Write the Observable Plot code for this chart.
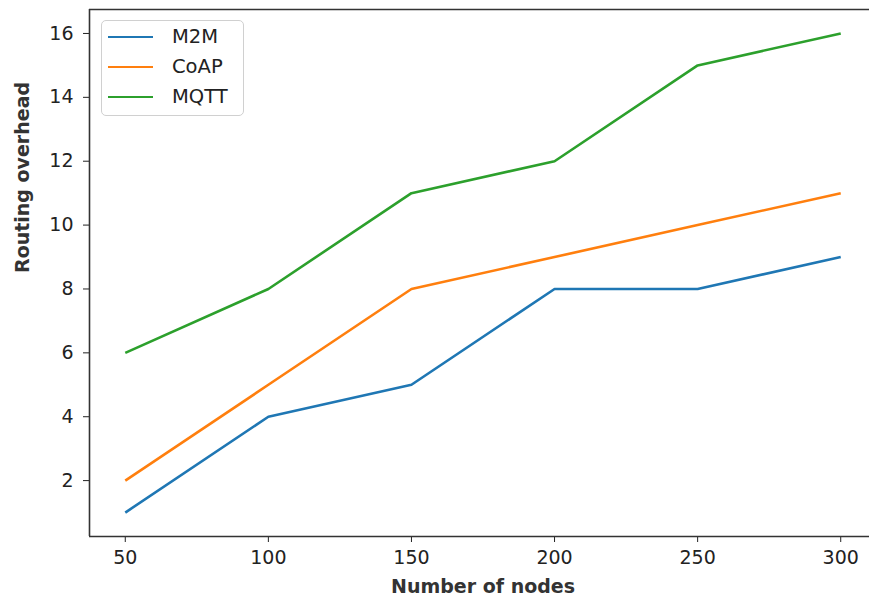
<!DOCTYPE html>
<html>
<head>
<meta charset="utf-8">
<script src="https://cdn.jsdelivr.net/npm/d3@7"></script>
<script src="https://cdn.jsdelivr.net/npm/@observablehq/plot@0.6"></script>
<style>
  html, body { margin: 0; padding: 0; background: #fff; overflow: hidden; }
  #wrap { position: relative; width: 869px; height: 601px; font-family: "DejaVu Sans", sans-serif; }
  #legend { position: absolute; left: 101px; top: 20px; width: 143px; height: 96px;
    border: 1px solid #d0d0d0; border-radius: 5px; background: rgba(255,255,255,0.85); box-sizing: border-box; }
  .item { position: absolute; left: 6px; height: 22px; display: flex; align-items: center; }
  .item .sw { width: 45px; height: 0; border-top: 2.6px solid; margin-right: 19px; }
  .item .lb { font-size: 19.5px; color: #222; line-height: 22px; }
</style>
</head>
<body>
<div id="wrap"></div>
<script>
const nodes = [50, 100, 150, 200, 250, 300];
const m2m  = [1, 4, 5, 8, 8, 9];
const coap = [2, 5, 8, 9, 10, 11];
const mqtt = [6, 8, 11, 12, 15, 16];
const seriesNames = ["M2M", "CoAP", "MQTT"];
const seriesColors = ["#1f77b4", "#ff7f0e", "#2ca02c"];
const xTicks = [50, 100, 150, 200, 250, 300];
const yTicks = [2, 4, 6, 8, 10, 12, 14, 16];

const seriesValues = [m2m, coap, mqtt];
const data = [];
seriesNames.forEach((s, i) => nodes.forEach((n, j) => data.push({series: s, nodes: n, value: seriesValues[i][j]})));

const chart = Plot.plot({
  width: 869,
  height: 601,
  marginLeft: 89,
  marginRight: -7,
  marginTop: 9,
  marginBottom: 65,
  style: {fontFamily: "DejaVu Sans, sans-serif", background: "#fff", overflow: "hidden"},
  x: {domain: [37.5, 312.5]},
  y: {domain: [0.25, 16.75]},
  color: {domain: seriesNames, range: seriesColors},
  marks: [
    Plot.axisX({ticks: xTicks, tickSize: 6, tickPadding: 8, fontSize: 19, color: "#222", stroke: "#222", label: null, tickFormat: d => String(d)}),
    Plot.axisY({ticks: yTicks, tickSize: 6, tickPadding: 10, fontSize: 19, color: "#222", stroke: "#222", label: null, tickFormat: d => String(d)}),
    Plot.line(data, {x: "nodes", y: "value", z: "series", stroke: "series", strokeWidth: 2.6, strokeLinejoin: "miter", strokeLinecap: "butt"}),
    Plot.ruleX([37.5], {stroke: "#333", strokeWidth: 1.6}),
    Plot.ruleY([0.25], {stroke: "#333", strokeWidth: 1.6}),
    Plot.ruleY([16.75], {stroke: "#333", strokeWidth: 1.6}),
    Plot.text(["Number of nodes"], {frameAnchor: "bottom", dy: 50, lineAnchor: "middle", fontSize: 19, fontWeight: "bold", fill: "#333"}),
    Plot.text(["Routing overhead"], {frameAnchor: "left", dx: -67, rotate: -90, lineAnchor: "middle", fontSize: 19, fontWeight: "bold", fill: "#333"})
  ]
});
const wrap = document.getElementById("wrap");
wrap.appendChild(chart);

const legend = document.createElement("div");
legend.id = "legend";
seriesNames.forEach((s, i) => {
  const it = document.createElement("div");
  it.className = "item";
  it.style.top = (5 + i * 30) + "px";
  it.innerHTML = `<div class="sw" style="border-top-color:${seriesColors[i]}"></div><div class="lb">${s}</div>`;
  legend.appendChild(it);
});
wrap.appendChild(legend);
</script>
</body>
</html>
